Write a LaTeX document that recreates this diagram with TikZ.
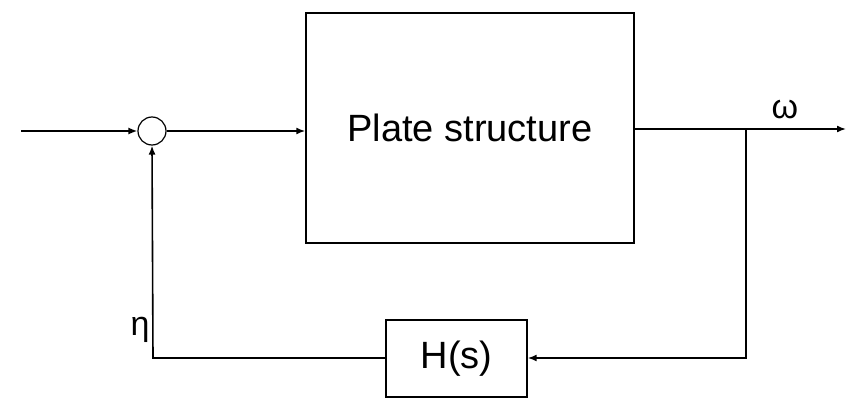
\documentclass[tikz,border=0pt]{standalone}
\usepackage{fontspec}
\setmainfont{Liberation Sans}
\usetikzlibrary{arrows.meta}
\begin{document}
\begin{tikzpicture}[x=1pt,y=-1pt,
  line width=1.6pt,
  conn/.style={-{Latex[length=9pt,width=7pt]}},
  blk/.style={draw,rectangle,inner sep=0pt,line width=1.4pt},
  lbl/.style={font=\fontsize{38}{40}\selectfont,inner sep=0pt}]
\useasboundingbox (0,0) rectangle (848,398);
\coordinate (in) at (21,131);
\node[draw,circle,minimum size=28pt,inner sep=0pt,line width=1.2pt] (sum) at (152,131) {};
\node[blk,minimum width=328pt,minimum height=230pt] (plate) at (470,128) {};
\node[lbl] at (plate.center) {Plate structure};
\node[blk,minimum width=141pt,minimum height=77pt] (H) at (456.5,358.5) {};
\node[lbl] at (H.center) {H(s)};
\coordinate (out) at (846,129);
\coordinate (br) at (746,129);
\coordinate (brd) at (746,358);
\coordinate (fbl) at (153,358);
\draw[conn] (in) -- (sum.west);
\draw[conn] (sum.east) -- (sum.east -| plate.west);
\draw[conn] (plate.east |- out) -- (out);
\draw[conn] (br) -- (brd) -- (H.east |- brd);
\draw[conn] (H.west |- fbl) -- (fbl) -- (sum.south);
\node[lbl,font=\fontsize{34}{36}\selectfont] (omega) at (785,110) {ω};
\node[lbl,font=\fontsize{34}{36}\selectfont] (eta) at (140,330) {η};
\end{tikzpicture}
\end{document}
